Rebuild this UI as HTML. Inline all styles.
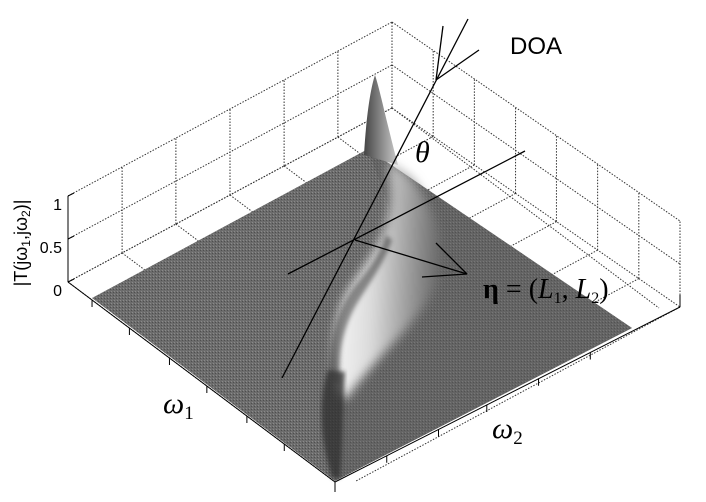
<!DOCTYPE html>
<html><head><meta charset="utf-8"><style>
body{margin:0;background:#fff;}
svg{display:block;}
</style></head><body>
<svg id="chart" width="706" height="502" viewBox="0 0 706 502" xmlns="http://www.w3.org/2000/svg">
<defs>
<linearGradient id="ridgeGrad" x1="0" y1="0" x2="1" y2="0.1">
<stop offset="0" stop-color="#fafafa"/><stop offset="0.4" stop-color="#dcdcdc"/><stop offset="1" stop-color="#6a6a6a"/>
</linearGradient>
<linearGradient id="spikeGrad" x1="0" y1="0" x2="1" y2="0">
<stop offset="0" stop-color="#444"/><stop offset="0.5" stop-color="#888"/><stop offset="1" stop-color="#ccc"/>
</linearGradient>
<filter id="blur"><feGaussianBlur stdDeviation="5"/></filter>
<filter id="blur2"><feGaussianBlur stdDeviation="2"/></filter>
<pattern id="tex" width="3" height="3" patternUnits="userSpaceOnUse">
<rect width="3" height="3" fill="#6c6c6c"/><rect width="1" height="1" fill="#8a8a8a"/><rect x="2" y="1" width="1" height="1" fill="#4e4e4e"/>
</pattern>
</defs>
<g id="box" stroke="#333" stroke-width="1" stroke-dasharray="1.5,1.5" fill="none"></g>
<g id="surface">
<polygon points="92,298 368,149 632,328 335,481" fill="url(#tex)"/>
<polygon points="368,149 632,328 335,481 340,380 390,210" fill="#5a5a5a" opacity="0.4"/>
<path d="M338,390 C330,350 335,310 352,285 C370,258 392,230 390,190 L388,160 L412,178 C432,205 448,240 440,275 C425,320 380,350 345,400 Z" fill="url(#ridgeGrad)" filter="url(#blur)"/>
<path d="M332,478 C320,440 318,400 328,370 L345,372 C342,410 343,440 340,478 Z" fill="#2e2e2e" opacity="0.75" filter="url(#blur2)"/>
<path d="M330,380 C328,340 338,305 360,280 C372,265 382,250 386,235 L392,240 C385,262 368,285 356,305 C342,330 338,355 340,385 Z" fill="#3a3a3a" opacity="0.55" filter="url(#blur2)"/>
<path d="M364,155 C366,120 370,90 375,75 C380,90 386,120 398,165 Z" fill="url(#spikeGrad)"/>
</g>
<g id="ticks" stroke="#000" stroke-width="1"></g>
<g stroke="#000" stroke-width="1.3" fill="none">
<line x1="282" y1="378" x2="468" y2="19"/>
<line x1="443" y1="26" x2="436" y2="80"/>
<line x1="479" y1="50" x2="436" y2="80"/>
<line x1="525" y1="151" x2="288" y2="274"/>
<line x1="355" y1="240" x2="467" y2="274"/>
<line x1="436" y1="243" x2="467" y2="274"/>
<line x1="422" y1="277" x2="467" y2="274"/>
</g>
<text x="510" y="54" font-family="Liberation Sans, sans-serif" font-size="24">DOA</text>
<text x="415" y="162" font-family="Liberation Serif, serif" font-style="italic" font-size="30">θ</text>
<text x="483" y="298" font-family="Liberation Serif, serif" font-size="28"><tspan font-weight="bold">η</tspan> = (<tspan font-style="italic">L</tspan><tspan font-size="16" dy="5">1</tspan><tspan dy="-5">, </tspan><tspan font-style="italic">L</tspan><tspan font-size="16" dy="5">2</tspan><tspan dy="-5">)</tspan></text>
<text x="163" y="413" font-family="Liberation Serif, serif" font-style="italic" font-size="30">ω<tspan font-style="normal" font-size="19" dy="6">1</tspan></text>
<text x="492" y="438" font-family="Liberation Serif, serif" font-style="italic" font-size="30">ω<tspan font-style="normal" font-size="19" dy="6">2</tspan></text>
<text transform="translate(27,243) rotate(-90)" text-anchor="middle" font-family="Liberation Sans, sans-serif" font-size="18">|T(jω<tspan font-size="12" dy="3">1</tspan><tspan dy="-3">,jω</tspan><tspan font-size="12" dy="3">2</tspan><tspan dy="-3">)|</tspan></text>
<g id="zlabels" font-family="Liberation Sans, sans-serif" font-size="16" text-anchor="end"></g>
</svg>
<script>
const zTicks=[0,0.5,1];
const zTickLabels=["0","0.5","1"];
const leftWallFrac=[0,0.167,0.333,0.5,0.667,0.833,1];
const rightWallFrac=[0,0.143,0.286,0.429,0.571,0.714,0.857,1];
const frontLeftTicks=[0.09,0.23,0.38,0.52,0.67,0.81];
const frontRightTicks=[0.15,0.3,0.44,0.59,0.74];
const NS="http://www.w3.org/2000/svg";
const F=[335,482],L=[68,282],B=[392,108],R=[680,307];
const H=86;
function zy(z){return -z*H;}
function lerp(a,b,t){return [a[0]+(b[0]-a[0])*t,a[1]+(b[1]-a[1])*t];}
function ln(g,a,b,name){const l=document.createElementNS(NS,'line');
l.setAttribute('x1',a[0]);l.setAttribute('y1',a[1]);l.setAttribute('x2',b[0]);l.setAttribute('y2',b[1]);


g.appendChild(l);}
const box=document.getElementById('box');
leftWallFrac.forEach(t=>{const p=lerp(L,B,t);ln(box,p,[p[0],p[1]+zy(1)],'left-wall-gridline');
ln(box,p,[p[0]+(F[0]-L[0]),p[1]+(F[1]-L[1])],'floor-gridline');});
rightWallFrac.forEach(t=>{const p=lerp(B,R,t);ln(box,p,[p[0],p[1]+zy(1)],'right-wall-gridline');
ln(box,p,[p[0]+(L[0]-B[0]),p[1]+(L[1]-B[1])],'floor-gridline');});
zTicks.forEach(z=>{ln(box,[L[0],L[1]+zy(z)],[B[0],B[1]+zy(z)],'left-wall-z-gridline');
ln(box,[B[0],B[1]+zy(z)],[R[0],R[1]+zy(z)],'right-wall-z-gridline');});
const tk=document.getElementById('ticks');
ln(tk,[L[0],L[1]],[L[0],L[1]+zy(1)],'z-axis-line');
ln(tk,L,F,'front-left-edge');ln(tk,F,R,'front-right-edge');
ln(tk,R,[R[0],R[1]-12],'right-corner-tick');
ln(tk,F,[F[0],F[1]+10],'front-corner-tick');
zTicks.forEach(z=>{const y=L[1]+zy(z);ln(tk,[L[0],y],[L[0]+6,y-3],'z-tick');});
frontLeftTicks.forEach(t=>{const p=lerp(L,F,t);ln(tk,p,[p[0],p[1]+7],'omega1-tick');});
frontRightTicks.forEach(t=>{const p=lerp(F,R,t);ln(tk,p,[p[0],p[1]+7],'omega2-tick');});
const zl=document.getElementById('zlabels');
zTicks.forEach((z,i)=>{const t=document.createElementNS(NS,'text');
t.setAttribute('x',L[0]-6);t.setAttribute('y',L[1]+zy(z)+14);t.textContent=zTickLabels[i];


zl.appendChild(t);});
</script>
</body></html>
